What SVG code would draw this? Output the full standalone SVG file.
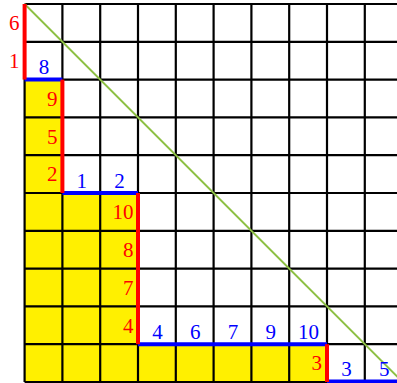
<svg xmlns="http://www.w3.org/2000/svg" width="397" height="383" viewBox="0 0 397 383">
<style>
.grid line{stroke:#000;stroke-width:2.2}
.red{stroke:#FF0000;stroke-width:4}
.blue{stroke:#0000FF;stroke-width:4}
text{font-family:"Liberation Serif","DejaVu Serif",serif;font-size:21px}
.rl{fill:#FF0000;text-anchor:end}
.bl{fill:#0000FF;text-anchor:middle}
</style>
<rect width="397" height="383" fill="#fff"/>
<path id="fill" d="M24.6,79.6 H62.4 V193 H138 V344.2 H327 V382 H24.6 Z" fill="#FFF000"/>
<g id="grid" class="grid">
<line x1="24.6" y1="4" x2="24.6" y2="382"/>
<line x1="62.4" y1="4" x2="62.4" y2="382"/>
<line x1="100.2" y1="4" x2="100.2" y2="382"/>
<line x1="138" y1="4" x2="138" y2="382"/>
<line x1="175.8" y1="4" x2="175.8" y2="382"/>
<line x1="213.6" y1="4" x2="213.6" y2="382"/>
<line x1="251.4" y1="4" x2="251.4" y2="382"/>
<line x1="289.2" y1="4" x2="289.2" y2="382"/>
<line x1="327" y1="4" x2="327" y2="382"/>
<line x1="364.8" y1="4" x2="364.8" y2="382"/>
<line x1="402.6" y1="4" x2="402.6" y2="382"/>
<line x1="24.6" y1="4" x2="402.6" y2="4"/>
<line x1="24.6" y1="41.8" x2="402.6" y2="41.8"/>
<line x1="24.6" y1="79.6" x2="402.6" y2="79.6"/>
<line x1="24.6" y1="117.4" x2="402.6" y2="117.4"/>
<line x1="24.6" y1="155.2" x2="402.6" y2="155.2"/>
<line x1="24.6" y1="193" x2="402.6" y2="193"/>
<line x1="24.6" y1="230.8" x2="402.6" y2="230.8"/>
<line x1="24.6" y1="268.6" x2="402.6" y2="268.6"/>
<line x1="24.6" y1="306.4" x2="402.6" y2="306.4"/>
<line x1="24.6" y1="344.2" x2="402.6" y2="344.2"/>
<line x1="24.6" y1="382" x2="402.6" y2="382"/>
</g>
<line id="diagonal" x1="24.6" y1="4" x2="402.6" y2="382" stroke="#8DC044" stroke-width="1.9"/>
<g id="path">
<line class="blue" x1="24.6" y1="79.6" x2="62.4" y2="79.6"/>
<line class="blue" x1="62.4" y1="193" x2="138" y2="193"/>
<line class="blue" x1="138" y1="344.2" x2="327" y2="344.2"/>
<line class="blue" x1="327" y1="381.5" x2="402.6" y2="381.5"/>
<line class="red" x1="24.6" y1="4" x2="24.6" y2="79.6"/>
<line class="red" x1="62.4" y1="79.6" x2="62.4" y2="193"/>
<line class="red" x1="138" y1="193" x2="138" y2="344.2"/>
<line class="red" x1="327" y1="344.2" x2="327" y2="382"/>
</g>
<g id="red-labels">
<text class="rl" x="19.6" y="30.2">6</text>
<text class="rl" x="19.6" y="68">1</text>
<text class="rl" x="57.4" y="105.8">9</text>
<text class="rl" x="57.4" y="143.6">5</text>
<text class="rl" x="57.4" y="181.4">2</text>
<text class="rl" x="133.5" y="219.2">10</text>
<text class="rl" x="133.5" y="257">8</text>
<text class="rl" x="133.5" y="294.8">7</text>
<text class="rl" x="133.5" y="332.6">4</text>
<text class="rl" x="322" y="370.4">3</text>
</g>
<g id="blue-labels">
<text class="bl" x="44" y="74.1">8</text>
<text class="bl" x="81.8" y="187.5">1</text>
<text class="bl" x="119.6" y="187.5">2</text>
<text class="bl" x="157.4" y="338.7">4</text>
<text class="bl" x="195.2" y="338.7">6</text>
<text class="bl" x="233" y="338.7">7</text>
<text class="bl" x="270.8" y="338.7">9</text>
<text class="bl" x="308.6" y="338.7">10</text>
<text class="bl" x="346.4" y="376">3</text>
<text class="bl" x="384.2" y="376">5</text>
</g>
</svg>
